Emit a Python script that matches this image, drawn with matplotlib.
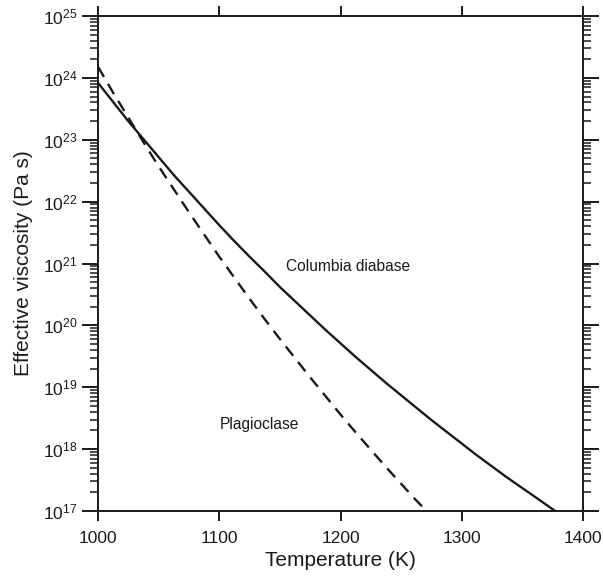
import numpy as np
import matplotlib
matplotlib.use("Agg")
import matplotlib.pyplot as plt
from matplotlib.ticker import LogLocator, FixedLocator, NullLocator

plt.rcParams["font.family"] = ["Liberation Sans", "DejaVu Sans"]

# Columbia diabase (solid): temperature (K) and log10 viscosity (Pa s)
diabase_T = [1000, 1012.5, 1025, 1037.5, 1050, 1062.5, 1075, 1087.5, 1100,
             1112.5, 1125, 1137.5, 1150, 1162.5, 1175, 1187.5, 1200, 1212.5,
             1225, 1237.5, 1250, 1262.5, 1275, 1287.5, 1300, 1312.5, 1325,
             1337.5, 1350, 1362.5, 1377]
diabase_log_eta = [23.92, 23.61, 23.30, 23.01, 22.72, 22.43, 22.16, 21.89, 21.62,
                   21.36, 21.11, 20.87, 20.62, 20.39, 20.16, 19.93, 19.71, 19.49,
                   19.28, 19.07, 18.87, 18.67, 18.47, 18.28, 18.09, 17.90, 17.72,
                   17.54, 17.37, 17.20, 17.00]

# Plagioclase (dashed)
plag_T = [1000, 1012.5, 1025, 1037.5, 1050, 1062.5, 1075, 1087.5, 1100, 1112.5,
          1125, 1137.5, 1150, 1162.5, 1175, 1187.5, 1200, 1212.5, 1225, 1237.5,
          1250, 1262.5, 1271]
plag_log_eta = [24.18, 23.76, 23.36, 22.96, 22.57, 22.20, 21.83, 21.47, 21.11, 20.77,
                20.43, 20.10, 19.78, 19.47, 19.16, 18.86, 18.56, 18.27, 17.99, 17.71,
                17.44, 17.17, 17.00]

x_ticks = [1000, 1100, 1200, 1300, 1400]

INK = "#1a1a1a"

fig = plt.figure(figsize=(6.03, 5.76), dpi=100)
ax = fig.add_axes([98 / 603, 65 / 576, 485 / 603, 495 / 576])

ax.plot(diabase_T, 10 ** np.array(diabase_log_eta), color=INK, lw=1.7,
        solid_capstyle="butt")
ax.plot(plag_T, 10 ** np.array(plag_log_eta), color=INK, lw=1.7,
        linestyle=(0, (5.0, 3.4)), dash_capstyle="butt")

ax.set_yscale("log")
ax.set_xlim(1000, 1400)
ax.set_ylim(1e17, 1e25)

ax.xaxis.set_major_locator(FixedLocator(x_ticks))
ax.xaxis.set_minor_locator(NullLocator())
ax.yaxis.set_major_locator(LogLocator(base=10, numticks=20))
ax.yaxis.set_minor_locator(LogLocator(base=10, subs=np.arange(2, 10), numticks=20))

for s in ax.spines.values():
    s.set_linewidth(1.4)
    s.set_color(INK)

ax.tick_params(axis="x", which="major", direction="out", length=7.2, width=1.4,
               top=True, bottom=True, labelsize=12.5, pad=7, colors=INK)
ax.tick_params(axis="y", which="major", direction="out", length=11.5, width=1.4,
               left=True, right=True, labelsize=12.5, pad=3, colors=INK)
ax.tick_params(axis="y", which="minor", direction="out", length=5.8, width=1.1,
               left=True, right=True, colors=INK)

ax.set_xlabel("Temperature (K)", fontsize=15, color=INK, labelpad=4)
ax.set_ylabel("Effective viscosity (Pa s)", fontsize=15, color=INK, labelpad=7)

ax.text(1206, 10 ** 20.95, "Columbia diabase", fontsize=11.2, color=INK,
        ha="center", va="center")
ax.text(1133, 10 ** 18.4, "Plagioclase", fontsize=11.2, color=INK,
        ha="center", va="center")

fig.savefig("out.png", dpi=100)
